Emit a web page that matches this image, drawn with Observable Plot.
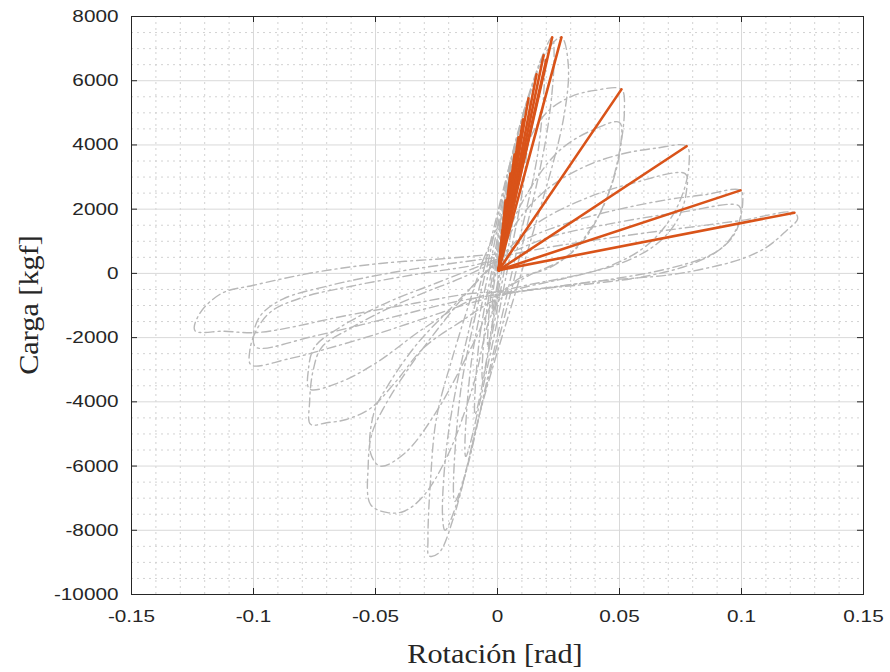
<!DOCTYPE html>
<html><head><meta charset="utf-8">
<script src="https://cdn.jsdelivr.net/npm/d3@7"></script>
<script src="https://cdn.jsdelivr.net/npm/@observablehq/plot@0.6"></script>
<style>
body{margin:0;background:#fff;}
#chart{width:890px;height:672px;}
</style></head><body><div id="chart"></div>
<script>
// ---- tick labels ----
const xTicks = [-0.15, -0.1, -0.05, 0, 0.05, 0.1, 0.15];
const yTicks = [-10000, -8000, -6000, -4000, -2000, 0, 2000, 4000, 6000, 8000];
const xLabel = "Rotación [rad]";
const yLabel = "Carga [kgf]";

// ---- orange envelope lines: from origin to each positive peak ----
const originX = 0.0005;
const originY = 100;
const peakX = [0.0020, 0.0033, 0.0053, 0.0070, 0.0086, 0.0105, 0.0127, 0.0160, 0.0189, 0.0200, 0.0224, 0.0262, 0.0508, 0.0775, 0.0996, 0.1217];
const peakY = [1340, 2270, 3110, 3700, 4240, 4800, 5450, 6200, 6790, 6650, 7350, 7350, 5730, 3960, 2585, 1890];

// ---- gray hysteresis cycles [rotation, load] ----
const cycle01 = [[0.0000,0],[0.0008,700],[0.0020,1340],[0.0016,600],[0.0006,0],[-0.0008,-650],[-0.0022,-1250],[-0.0017,-500],[-0.0005,80]];
const cycle02 = [[-0.0005,80],[0.0012,1200],[0.0033,2270],[0.0027,1100],[0.0010,50],[-0.0012,-1100],[-0.0040,-2300],[-0.0032,-1000],[-0.0010,100]];
const cycle03 = [[-0.0010,100],[0.0018,1600],[0.0053,3110],[0.0045,1600],[0.0018,100],[-0.0018,-1500],[-0.0062,-3300],[-0.0050,-1500],[-0.0015,150]];
const cycle04 = [[-0.0015,150],[0.0030,2300],[0.0086,4240],[0.0074,2300],[0.0030,200],[-0.0025,-2000],[-0.0092,-4400],[-0.0075,-2100],[-0.0020,200]];
const cycle05 = [[-0.0020,200],[0.0045,3000],[0.0127,5450],[0.0110,3000],[0.0045,300],[-0.0035,-2700],[-0.0130,-5700],[-0.0108,-2800],[-0.0030,250]];
const cycle06 = [[-0.0030,250],[0.0065,3800],[0.0150,6000],[0.0189,6790],[0.0170,4000],[0.0070,400],[-0.0045,-3400],[-0.0130,-6200],[-0.0175,-7100],[-0.0150,-3600],[-0.0040,300]];
const cycle07 = [[-0.0040,300],[0.0080,4300],[0.0180,6700],[0.0224,7350],[0.0232,6800],[0.0205,4500],[0.0090,500],[-0.0055,-3800],[-0.0160,-7000],[-0.0215,-8000],[-0.0225,-7600],[-0.0210,-5500],[-0.0160,-3200],[-0.0050,300]];
const cycle08 = [[-0.0050,300],[0.0090,4500],[0.0200,6900],[0.0262,7350],[0.0290,6500],[0.0270,4800],[0.0120,600],[-0.0060,-4000],[-0.0180,-7600],[-0.0240,-8700],[-0.0280,-8800],[-0.0285,-8300],[-0.0275,-6500],[-0.0250,-4500],[-0.0180,-2500],[-0.0060,400]];
const cycle09 = [[-0.0060,400],[0.0040,2200],[0.0120,4000],[0.0200,5000],[0.0300,5500],[0.0400,5700],[0.0508,5730],[0.0520,5100],[0.0500,3800],[0.0450,2400],[0.0350,1000],[0.0220,200],[0.0080,-200],[-0.0020,-1200],[-0.0100,-3500],[-0.0200,-5600],[-0.0300,-6900],[-0.0380,-7400],[-0.0450,-7450],[-0.0520,-7200],[-0.0530,-6000],[-0.0515,-5000],[-0.0460,-4100],[-0.0350,-2800],[-0.0200,-1300],[-0.0080,-200],[0.0000,400]];
const cycle10 = [[0.0000,400],[0.0100,2200],[0.0250,3800],[0.0400,4500],[0.0500,4700],[0.0505,4000],[0.0470,2800],[0.0400,1600],[0.0280,500],[0.0120,-100],[0.0000,-700],[-0.0100,-2200],[-0.0250,-4300],[-0.0380,-5600],[-0.0480,-6000],[-0.0520,-5600],[-0.0505,-4300],[-0.0450,-3500],[-0.0330,-2200],[-0.0180,-1000],[-0.0050,0],[0.0000,400]];
const cycle11 = [[0.0000,400],[0.0080,1600],[0.0200,2600],[0.0350,3300],[0.0500,3700],[0.0650,3900],[0.0775,3960],[0.0785,3400],[0.0760,2500],[0.0700,1600],[0.0600,800],[0.0450,200],[0.0250,-200],[0.0080,-500],[-0.0030,-900],[-0.0150,-1500],[-0.0300,-2300],[-0.0420,-3400],[-0.0520,-4200],[-0.0620,-4550],[-0.0700,-4650],[-0.0766,-4700],[-0.0770,-4000],[-0.0755,-3000],[-0.0720,-2300],[-0.0600,-1700],[-0.0450,-1100],[-0.0300,-600],[-0.0150,-150],[0.0000,400]];
const cycle12 = [[0.0000,400],[0.0150,1500],[0.0350,2300],[0.0550,2800],[0.0770,3100],[0.0775,2600],[0.0740,1700],[0.0650,900],[0.0500,300],[0.0300,-100],[0.0100,-400],[-0.0100,-800],[-0.0300,-1700],[-0.0500,-2800],[-0.0650,-3400],[-0.0770,-3600],[-0.0775,-3000],[-0.0750,-2300],[-0.0650,-1700],[-0.0450,-900],[-0.0250,-300],[-0.0050,300],[0.0000,450]];
const cycle13 = [[0.0000,400],[0.0100,1000],[0.0300,1600],[0.0500,2000],[0.0700,2300],[0.0850,2450],[0.0996,2585],[0.1005,2200],[0.0980,1400],[0.0920,800],[0.0800,300],[0.0600,-100],[0.0350,-350],[0.0100,-550],[-0.0100,-900],[-0.0300,-1400],[-0.0500,-1900],[-0.0700,-2350],[-0.0850,-2650],[-0.1010,-2850],[-0.1015,-2400],[-0.0990,-1800],[-0.0930,-1200],[-0.0800,-750],[-0.0600,-400],[-0.0350,-50],[-0.0100,250],[0.0000,450]];
const cycle14 = [[0.0000,450],[0.0200,1100],[0.0500,1600],[0.0750,1900],[0.0990,2100],[0.0995,1700],[0.0960,1100],[0.0880,600],[0.0700,150],[0.0450,-200],[0.0150,-500],[-0.0150,-850],[-0.0450,-1400],[-0.0750,-1950],[-0.0990,-2300],[-0.1000,-1900],[-0.0970,-1300],[-0.0880,-800],[-0.0700,-400],[-0.0450,0],[-0.0150,350],[0.0000,500]];
const cycle15 = [[0.0000,500],[0.0200,800],[0.0500,1150],[0.0800,1450],[0.1000,1650],[0.1217,1890],[0.1230,1700],[0.1180,1300],[0.1100,800],[0.1000,450],[0.0850,150],[0.0700,-50],[0.0400,-250],[0.0100,-550],[-0.0100,-620],[-0.0340,-930],[-0.0610,-1300],[-0.0980,-1840],[-0.1120,-1800],[-0.1240,-1780],[-0.1220,-1245],[-0.1130,-620],[-0.1000,-370],[-0.0750,30],[-0.0480,310],[-0.0200,470],[-0.0070,560],[0.0000,600]];

const cycles = [cycle01, cycle02, cycle03, cycle04, cycle05, cycle06, cycle07, cycle08, cycle09, cycle10, cycle11, cycle12, cycle13, cycle14, cycle15];
const grayData = cycles.flatMap((c, i) => c.map(([x, y]) => ({x, y, cycle: i})));
const orangeData = peakX.map((x, i) => ({x0: originX, y0: originY, x, y: peakY[i]}));

const W = 890, H = 672;
const mL = 131, mR = 27, mT = 16, mB = 78;
const plotW = W - mL - mR, plotH = H - mT - mB;
const tickLen = 6;

const xMinor = d3.range(-15, 16).map(i => i / 100).filter(v => Math.abs(Math.round(v * 100) % 5) !== 0);
const yMinor = d3.range(-20, 17).map(i => i * 500).filter(v => v % 2000 !== 0);

const axisColor = "#262626";

const plot = Plot.plot({
  width: W, height: H,
  marginLeft: mL, marginRight: mR, marginTop: mT, marginBottom: mB,
  x: {domain: [-0.15, 0.15]},
  y: {domain: [-10000, 8000]},
  style: {fontFamily: "'Liberation Sans', Arial, sans-serif", fontSize: "17px", color: axisColor, background: "white"},
  marks: [
    Plot.ruleX(xMinor, {x: d => d, stroke: "#d2d2d2", strokeDasharray: "2,4", strokeWidth: 1}),
    Plot.ruleY(yMinor, {y: d => d, stroke: "#d2d2d2", strokeDasharray: "2,4", strokeWidth: 1}),
    Plot.ruleX(xTicks, {x: d => d, stroke: "#d9d9d9", strokeWidth: 1}),
    Plot.ruleY(yTicks, {y: d => d, stroke: "#d9d9d9", strokeWidth: 1}),
    Plot.line(grayData, {x: "x", y: "y", z: "cycle", stroke: "#b8b8b8", strokeWidth: 1.4, strokeDasharray: "9,4,2,4", curve: "catmull-rom"}),
    Plot.link(orangeData, {x1: "x0", y1: "y0", x2: "x", y2: "y", stroke: "#D95319", strokeWidth: 2.6, strokeLinecap: "round"}),
    Plot.frame({stroke: axisColor, strokeWidth: 1}),
    Plot.ruleX(xTicks, {x: d => d, stroke: axisColor, insetTop: plotH - tickLen}),
    Plot.ruleX(xTicks, {x: d => d, stroke: axisColor, insetBottom: plotH - tickLen}),
    Plot.ruleY(yTicks, {y: d => d, stroke: axisColor, insetRight: plotW - tickLen}),
    Plot.ruleY(yTicks, {y: d => d, stroke: axisColor, insetLeft: plotW - tickLen}),
    Plot.axisX({ticks: xTicks, tickSize: 0, tickPadding: 15, tickFormat: d => String(d), label: null, fontSize: 17}),
    Plot.axisY({ticks: yTicks, tickSize: 0, tickPadding: 13, tickFormat: d => String(d), label: null, fontSize: 17})
  ]
});

document.getElementById("chart").appendChild(plot);
const svg = d3.select(plot);

function stretch(sel, sx, mode) {
  sel.each(function() {
    const b = this.getBBox();
    const ax = mode === "end" ? b.x + b.width : b.x + b.width / 2;
    const t = this.getAttribute("transform") || "";
    this.setAttribute("transform", `${t} translate(${ax},0) scale(${sx},1) translate(${-ax},0)`);
  });
}
stretch(svg.selectAll('g[aria-label="x-axis tick label"] text'), 1.22, "middle");
stretch(svg.selectAll('g[aria-label="y-axis tick label"] text'), 1.22, "end");

svg.append("text")
  .attr("transform", `translate(${mL + plotW / 2 - 2},${H - 9}) scale(1.08,1)`)
  .attr("text-anchor", "middle")
  .style("font-family", "'Liberation Serif', 'Times New Roman', serif")
  .style("font-size", "28px")
  .attr("fill", axisColor)
  .text(xLabel);
svg.append("text")
  .attr("transform", `translate(38,${mT + plotH / 2}) rotate(-90) scale(1.08,1)`)
  .attr("text-anchor", "middle")
  .style("font-family", "'Liberation Serif', 'Times New Roman', serif")
  .style("font-size", "28px")
  .attr("fill", axisColor)
  .text(yLabel);
</script>
</body></html>
